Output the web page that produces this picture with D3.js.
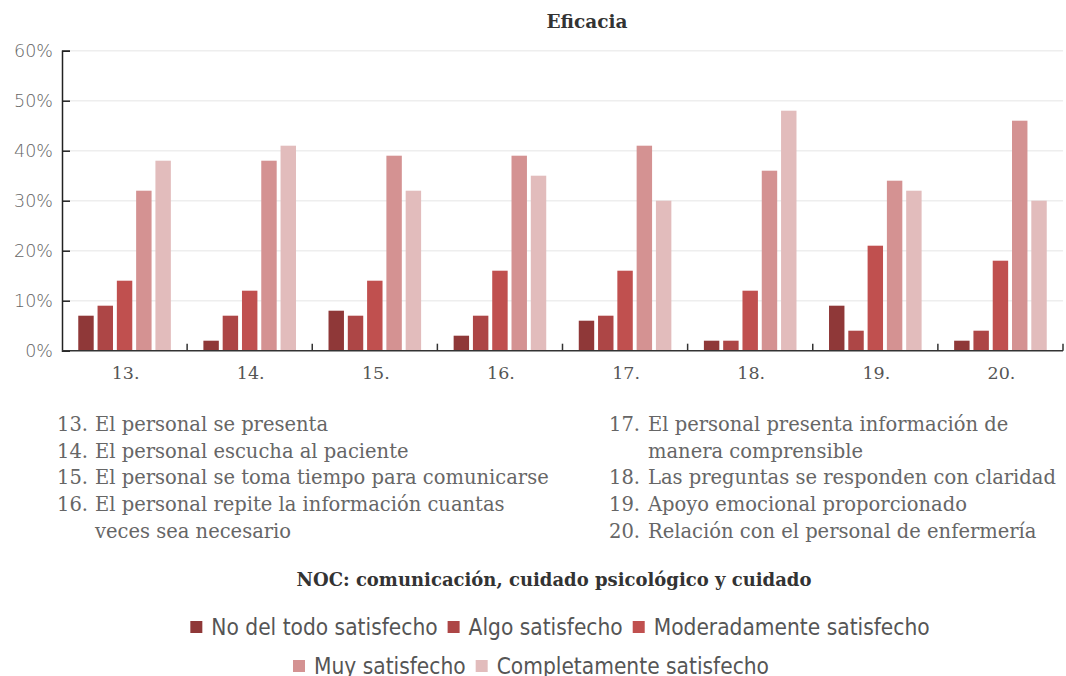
<!DOCTYPE html>
<head>
  <meta charset="utf-8">
  <title>Eficacia</title>
  <style>
    body { margin: 0; background: #fff; }
    text { font-family: "DejaVu Serif", serif; }
  </style>
</head>
<body>
<svg width="1066" height="676"></svg>
<script src="https://d3js.org/d3.v7.min.js"></script>
<script>

// data (percent)
var categories = ["13.", "14.", "15.", "16.", "17.", "18.", "19.", "20."];
var series = ["No del todo satisfecho", "Algo satisfecho", "Moderadamente satisfecho",
              "Muy satisfecho", "Completamente satisfecho"];
var noDelTodo     = [7, 2, 8, 3, 6, 2, 9, 2];
var algo          = [9, 7, 7, 7, 7, 2, 4, 4];
var moderadamente = [14, 12, 14, 16, 16, 12, 21, 18];
var muy           = [32, 38, 39, 39, 41, 36, 34, 46];
var completamente = [38, 41, 32, 35, 30, 48, 32, 30];
var yTicks = [0, 10, 20, 30, 40, 50, 60];

var itemsLeft = [
  ["13.", ["El personal se presenta"]],
  ["14.", ["El personal escucha al paciente"]],
  ["15.", ["El personal se toma tiempo para comunicarse"]],
  ["16.", ["El personal repite la información cuantas", "veces sea necesario"]]
];
var itemsRight = [
  ["17.", ["El personal presenta información de", "manera comprensible"]],
  ["18.", ["Las preguntas se responden con claridad"]],
  ["19.", ["Apoyo emocional proporcionado"]],
  ["20.", ["Relación con el personal de enfermería"]]
];

var colors = ["#8f3838", "#ad4646", "#c0504f", "#d49292", "#e2bcbc"];
var values = [noDelTodo, algo, moderadamente, muy, completamente];

var svg = d3.select("svg");
var plotLeft = 62, plotRight = 1063, plotTop = 50.7, plotBottom = 350.7;

var x0 = d3.scaleBand().domain(categories).range([plotLeft, plotRight])
    .paddingInner(0.26).paddingOuter(0.13);
var x1 = d3.scaleBand().domain(series).range([0, x0.bandwidth()]).paddingInner(0.2);
var y = d3.scaleLinear().domain([0, 60]).range([plotBottom, plotTop]);
var color = d3.scaleOrdinal().domain(series).range(colors);

// title
svg.append("text").attr("x", 587).attr("y", 28)
  .attr("text-anchor", "middle").attr("font-size", 18.5).attr("font-weight", "bold")
  .attr("fill", "#333").text("Eficacia");

// gridlines
svg.append("g").selectAll("line").data(yTicks.slice(1)).join("line")
  .attr("x1", plotLeft).attr("x2", plotRight)
  .attr("y1", d => y(d)).attr("y2", d => y(d))
  .attr("stroke", "#eeeeee").attr("stroke-width", 1.5);

// bars
var rows = categories.map(function(c, i) {
  return series.map(function(s, j) { return {cat: c, key: s, value: values[j][i]}; });
});
svg.append("g").selectAll("g").data(rows).join("g")
    .attr("transform", d => "translate(" + x0(d[0].cat) + ",0)")
  .selectAll("rect").data(d => d).join("rect")
    .attr("x", d => x1(d.key))
    .attr("width", x1.bandwidth())
    .attr("y", d => y(d.value))
    .attr("height", d => y(0) - y(d.value))
    .attr("fill", d => color(d.key));

// y axis
var yAxis = svg.append("g").attr("transform", "translate(" + plotLeft + ",0)")
  .call(d3.axisLeft(y).tickValues(yTicks).tickSize(-8).tickPadding(9).tickFormat(d => d + "%"));
yAxis.select(".domain").attr("stroke", "#222").attr("stroke-width", 1.5);
yAxis.selectAll(".tick line").attr("stroke", "#222").attr("stroke-width", 1.5);
yAxis.selectAll(".tick text").attr("font-size", 17.5).attr("fill", "#666")
  .style("font-family", "DejaVu Sans").style("font-weight", 300);

// x axis: baseline, separator ticks, labels
svg.append("line").attr("x1", plotLeft).attr("x2", plotRight)
  .attr("y1", y(0)).attr("y2", y(0))
  .attr("stroke", "#333").attr("stroke-width", 1.5);
var sep = d3.range(1, categories.length + 1).map(i => plotLeft + i * x0.step());
svg.append("g").selectAll("line").data(sep).join("line")
  .attr("x1", d => d).attr("x2", d => d)
  .attr("y1", y(0) - 7).attr("y2", y(0))
  .attr("stroke", "#333").attr("stroke-width", 1.5);
svg.append("g").selectAll("text").data(categories).join("text")
  .attr("x", d => x0(d) + x0.bandwidth() / 2 + 1)
  .attr("y", 379)
  .attr("text-anchor", "middle").attr("font-size", 17.5).attr("fill", "#555")
  .text(d => d);

// item list
function drawList(items, xNum, xText) {
  var lineH = 26.7, yy = 431;
  items.forEach(function(it) {
    svg.append("text").attr("x", xNum).attr("y", yy)
      .attr("font-size", 19.5).attr("fill", "#666").text(it[0]);
    it[1].forEach(function(line, k) {
      svg.append("text").attr("x", xText).attr("y", yy + k * lineH)
        .attr("font-size", 19.5).attr("fill", "#666").text(line);
    });
    yy += it[1].length * lineH;
  });
}
drawList(itemsLeft, 57, 95);
drawList(itemsRight, 609, 648);

// subtitle
svg.append("text").attr("x", 554).attr("y", 586)
  .attr("text-anchor", "middle").attr("font-size", 18).attr("font-weight", "bold")
  .attr("fill", "#333").text("NOC: comunicación, cuidado psicológico y cuidado");

// legend
var legendRows = [[series[0], series[1], series[2]], [series[3], series[4]]];
var legendY = [627, 666], legendCx = [560, 531];
legendRows.forEach(function(row, r) {
  var g = svg.append("g");
  var xx = 0;
  row.forEach(function(s) {
    g.append("rect").attr("x", xx).attr("y", legendY[r] - 6).attr("width", 12).attr("height", 12)
      .attr("fill", color(s));
    var t = g.append("text").attr("x", xx + 21).attr("y", legendY[r] + 7.5)
      .attr("font-size", 22.5).attr("fill", "#555")
      .style("font-family", "DejaVu Sans Condensed").style("font-weight", 300)
      .text(s);
    xx += 21 + t.node().getComputedTextLength() + 10;
  });
  var w = xx - 10;
  g.attr("transform", "translate(" + (legendCx[r] - w / 2) + ",0)");
});

</script>
</body>
